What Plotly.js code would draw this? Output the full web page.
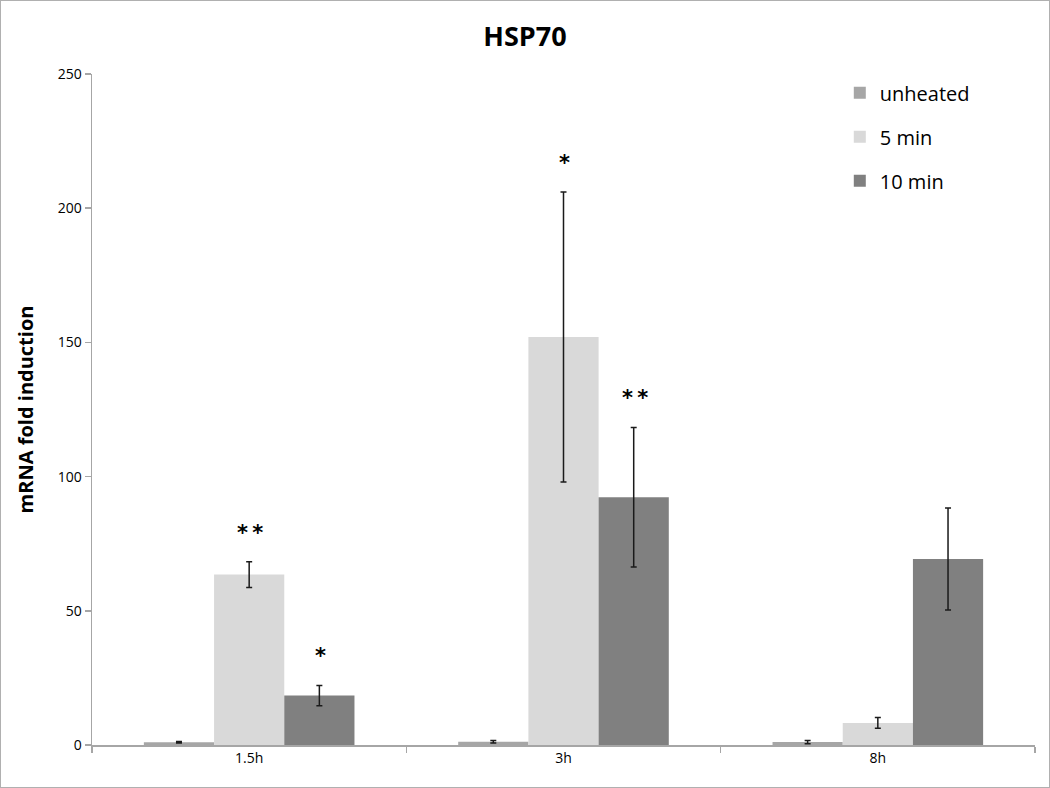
<!DOCTYPE html>
<html><head><meta charset="utf-8">
<script src="https://cdn.plot.ly/plotly-3.0.1.min.js"></script>
<style>html,body{margin:0;padding:0;background:#fff}#box{width:1050px;height:788px;box-sizing:border-box;border:1px solid #b0b0b0}#chart{width:1048px;height:786px}</style>
</head><body><div id="box"><div id="chart"></div></div>
<script>
const categories = ["1.5h", "3h", "8h"];
const seriesNames = ["unheated", "5 min", "10 min"];
const unheated = [1.0, 1.2, 1.1];
const unheatedErr = [0.3, 0.5, 0.6];
const min5 = [63.5, 152.0, 8.2];
const min5Err = [4.8, 54.0, 2.0];
const min10 = [18.4, 92.3, 69.3];
const min10Err = [3.8, 26.0, 19.0];
const min5Sig = ["**", "*", ""];
const min10Sig = ["*", "**", ""];
const colors = ["#a6a6a6", "#d9d9d9", "#808080"];

const values = [unheated, min5, min10];
const errs = [unheatedErr, min5Err, min10Err];
const sigs = [null, min5Sig, min10Sig];

const traces = values.map((v, i) => ({
  type: "bar", name: seriesNames[i], x: categories, y: v,
  legendgroup: "g" + i,
  marker: {color: colors[i]},
  error_y: {type: "data", array: errs[i], visible: true, color: "#1a1a1a", thickness: 1.5, width: 3}
}));

const offsets = [-70, 0, 70];
const annotations = [];
sigs.forEach((s, i) => {
  if (!s) return;
  s.forEach((t, j) => {
    if (!t) return;
    annotations.push({
      x: categories[j], y: values[i][j] + errs[i][j], xref: "x", yref: "y",
      text: t.split("").join("\u2009"), showarrow: false, xshift: offsets[i] + 1, yshift: 29, yanchor: "middle",
      font: {family: "DejaVu Sans, sans-serif", size: 21, color: "#000", weight: "bold"}
    });
  });
});

const layout = {
  width: 1048, height: 786,
  margin: {l: 91, r: 14, t: 73, b: 42},
  paper_bgcolor: "#fff", plot_bgcolor: "#fff",
  title: {text: "<b>HSP70</b>", x: 0.5, xanchor: "center", y: 0.955, yanchor: "middle",
          font: {family: "Open Sans, sans-serif", size: 27, color: "#000"}},
  barmode: "group", bargap: 0.33, bargroupgap: 0,
  font: {family: "Open Sans, sans-serif", color: "#000"},
  xaxis: {showline: true, linecolor: "#a6a6a6", linewidth: 1.5, ticks: "outside", tickson: "boundaries",
          ticklen: 6, tickcolor: "#a6a6a6", tickwidth: 1.5, showgrid: false,
          tickfont: {size: 14, color: "#000"}, fixedrange: true},
  yaxis: {range: [0, 250], tickvals: [0, 50, 100, 150, 200, 250], showline: true, linecolor: "#a6a6a6",
          linewidth: 1.5, ticks: "outside", ticklen: 6, tickcolor: "#a6a6a6", tickwidth: 1.5, showgrid: false,
          zeroline: false, tickfont: {size: 14, color: "#000"},
          title: {text: "<b>mRNA fold induction</b>", standoff: 18, font: {size: 20, color: "#000"}}},
  legend: {x: 0.793, y: 1.001, xanchor: "left", yanchor: "top", tracegroupgap: 15,
           font: {size: 20, color: "#000"}, bgcolor: "rgba(0,0,0,0)"},
  annotations: annotations
};
Plotly.newPlot("chart", traces, layout, {displayModeBar: false, staticPlot: true});
</script></body></html>
